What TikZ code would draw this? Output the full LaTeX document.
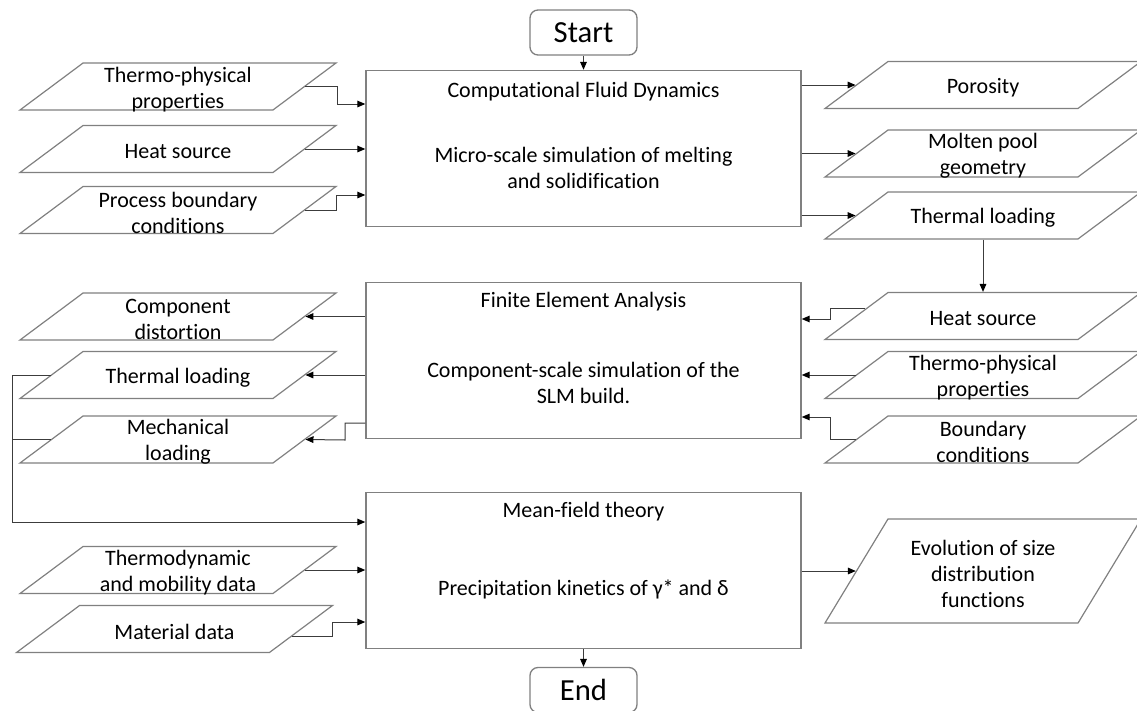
\documentclass[tikz,border=0pt]{standalone}
\usepackage{fontspec}
\setmainfont{Carlito}[Ligatures={NoCommon,NoRare}]
\usetikzlibrary{shapes.geometric,arrows.meta,calc,positioning}
\definecolor{boxline}{RGB}{128,128,128}
\definecolor{conline}{RGB}{60,60,60}
\begin{document}
\begin{tikzpicture}[x=0.75pt,y=0.75pt,yscale=-1,xscale=1,
  every node/.style={font=\fontsize{16.5}{19.5}\selectfont},
  term/.style={draw=boxline,line width=1pt,rounded corners=6pt,minimum width=80.25pt,minimum height=33.75pt,inner sep=0pt,font=\fontsize{23}{27}\selectfont},
  proc/.style={draw=boxline,line width=1.1pt,minimum width=326.25pt,minimum height=117pt,inner sep=0pt},
  io/.style={draw=boxline,line width=0.9pt,trapezium,trapezium left angle=36.7,trapezium right angle=143.3,trapezium stretches body,minimum width=237pt,inner xsep=0pt,inner ysep=17.625pt},
  iotext/.style={align=center,inner sep=0pt,yshift=-2pt},
  conn/.style={draw=conline,line width=0.75pt,-{Triangle[length=6pt,width=5pt,color=black]}},
  wire/.style={draw=conline,line width=0.75pt}]
\useasboundingbox (0,0) rectangle (1137,710);

\node[term] (start) at (583.5,32.5) {Start};
\node[term] (end) at (583.5,690) {End};

\node[proc] (cfd) at (583.5,148.5) {};
\node (cfdtitle) at (583.5,92) {Computational Fluid Dynamics};
\node[align=center] (cfdtext) at (583.5,168) {Micro-scale simulation of melting\\and solidification};
\node[proc] (fea) at (583.5,360.5) {};
\node (featitle) at (583.5,302) {Finite Element Analysis};
\node[align=center] (featext) at (583.5,383) {Component-scale simulation of the\\SLM build.};
\node[proc] (mft) at (583.5,570.5) {};
\node (mfttitle) at (583.5,512) {Mean-field theory};
\node (mfttext) at (583.5,589) {Precipitation kinetics of γ* and δ};

\node[io,label={[iotext]center:Thermo-physical\\properties}] (tp1) at (178,86.5) {};
\node[io,label={[iotext]center:Heat source}] (hs1) at (178,149) {};
\node[io,label={[iotext]center:Process boundary\\conditions}] (pbc) at (178,210) {};
\node[io,label={[iotext]center:Porosity}] (por) at (983,85) {};
\node[io,label={[iotext]center:Molten pool\\geometry}] (mpg) at (983,153.5) {};
\node[io,label={[iotext]center:Thermal loading}] (tl1) at (983,215.5) {};

\node[io,label={[iotext]center:Component\\distortion}] (cd) at (178,316.5) {};
\node[io,label={[iotext]center:Thermal loading}] (tl2) at (178,375) {};
\node[io,label={[iotext]center:Mechanical\\loading}] (ml) at (178,439.5) {};
\node[io,label={[iotext]center:Heat source}] (hs2) at (983,316) {};
\node[io,label={[iotext]center:Thermo-physical\\properties}] (tp2) at (983,375) {};
\node[io,label={[iotext]center:Boundary\\conditions}] (bc) at (983,439.5) {};

\node[io,label={[iotext]center:Thermodynamic\\and mobility data}] (tmd) at (178,570) {};
\node[io,label={[iotext]center:Material data}] (md) at (174.5,629) {};
\node[io,trapezium left angle=58.8,trapezium right angle=121.2,inner ysep=39pt,label={[iotext]center:Evolution of size\\distribution\\functions}] (esd) at (983,571) {};

\coordinate (bus) at (12,522);

\draw[conn] (start) -- (cfd);
\draw[conn] (tp1.right side) -| (337,104) -- (cfd.west |- 0,104);
\draw[conn] (hs1.right side) -- (cfd.west |- hs1.right side);
\draw[conn] (pbc.right side) -| (336,195) -- (cfd.west |- 0,195);
\draw[conn] (cfd.east |- por.left side) -- (por.left side);
\draw[conn] (cfd.east |- mpg.left side) -- (mpg.left side);
\draw[conn] (cfd.east |- tl1.left side) -- (tl1.left side);
\draw[conn] (tl1.south) -- (hs2.north);
\draw[conn] ($(hs2.bottom left corner)!0.65!(hs2.top left corner)$) -| (830,319) -- (fea.east |- 0,319);
\draw[conn] (tp2.left side) -- (fea.east |- tp2.left side);
\draw[conn] (bc.left side) -| (830,417) -- (fea.east |- 0,417);
\draw[conn] (fea.west |- cd.right side) -- (cd.right side);
\draw[conn] (fea.west |- tl2.right side) -- (tl2.right side);
\draw[conn] (fea.west |- 0,423) -| (345,440) -- (ml.right side);
\draw[conn] (tl2.left side) -| (bus) -- (mft.west |- bus);
\draw[wire] (ml.left side) -- (ml.left side -| bus);
\draw[conn] (tmd.right side) -- (mft.west |- tmd.right side);
\draw[conn] ($(md.bottom right corner)!0.35!(md.top right corner)$) -| (332,622) -- (mft.west |- 0,622);
\draw[conn] (mft.east |- esd.left side) -- (esd.left side);
\draw[conn] (mft) -- (end);
\end{tikzpicture}
\end{document}
